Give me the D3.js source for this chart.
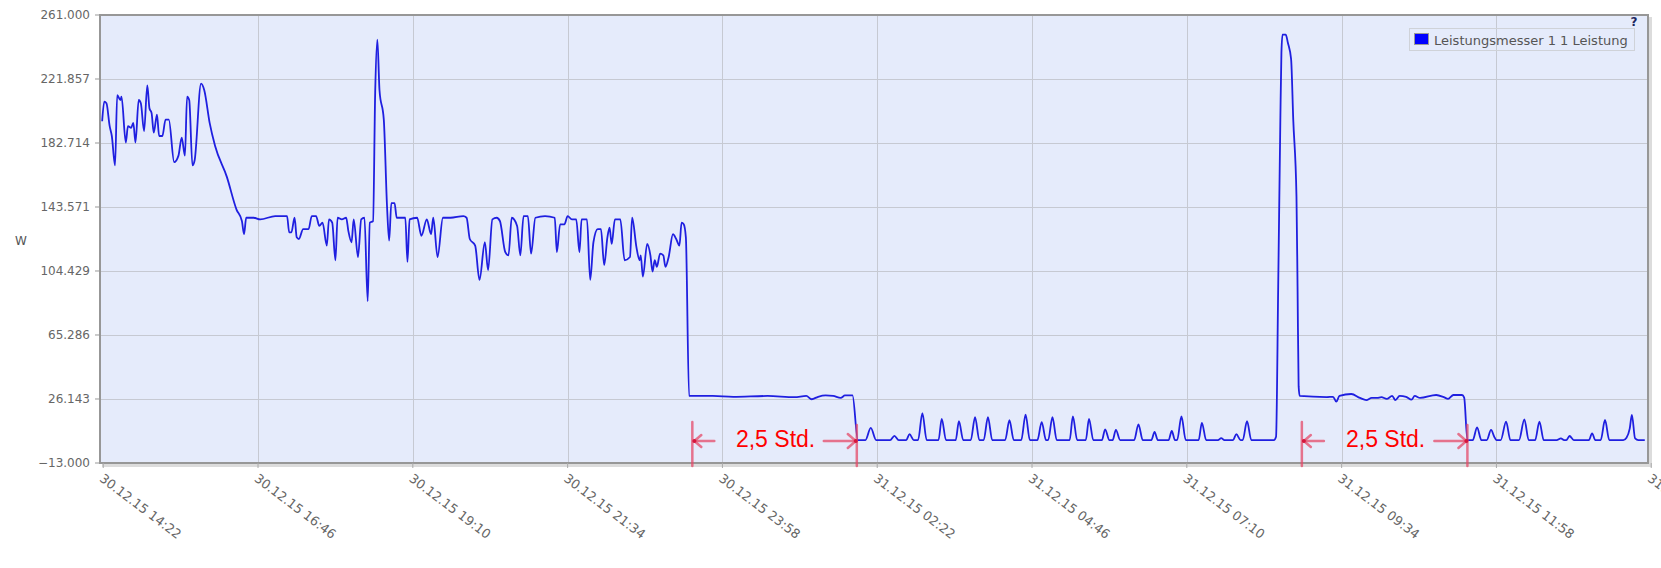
<!DOCTYPE html>
<html>
<head>
<meta charset="utf-8">
<script src="https://cdn.jsdelivr.net/npm/d3@7"></script>
<style>
    body { margin: 0; background: #fff; }
    svg { display: block; }
</style>
</head>
<body>
<svg id="chart" width="1661" height="568"></svg>
<script>
// Messwerte: Minuten nach 30.12.15 14:19, Leistung in W
const minutes = [
    2, 4, 6, 9, 11, 14, 16, 19, 20, 24, 26, 29, 31, 33, 36, 38, 41, 44, 46, 48,
    50, 53, 55, 58, 61, 64, 69, 73, 76, 79, 81, 83, 86, 88, 94, 97, 102, 107, 118, 127,
    132, 134, 136, 143, 149, 163, 174, 176, 178, 181, 183, 185, 189, 194, 197, 201, 204, 207, 211, 213,
    216, 219, 221, 225, 229, 231, 234, 236, 240, 243, 246, 249, 251, 254, 256, 258, 260, 264, 267, 269,
    271, 274, 276, 284, 286, 288, 295, 299, 304, 308, 310, 314, 319, 326, 338, 341, 344, 349, 353, 358,
    361, 365, 369, 372, 377, 380, 383, 388, 391, 394, 398, 401, 405, 414, 423, 425, 428, 432, 435, 439,
    443, 446, 448, 453, 456, 459, 463, 466, 469, 472, 474, 476, 479, 484, 488, 493, 495, 499, 502, 503,
    505, 509, 512, 514, 516, 518, 521, 524, 526, 529, 533, 536, 539, 541, 543, 545, 548,
    570, 589, 621, 646, 657, 662, 668, 675, 682, 689, 693, 700, 705,
    712, 717, 722, 735, 739, 743, 750, 753, 757, 761, 765, 769, 780, 783, 787, 796, 799, 803,
    810, 814, 818, 822, 826, 830, 842, 846, 850, 857, 861, 865, 872, 876, 880, 882, 886, 890,
    902, 905, 909, 917, 920, 924, 932, 935, 939, 942, 945, 949, 962, 966, 970, 978, 981, 984,
    994, 997, 1000, 1002, 1006, 1010, 1022, 1025, 1029, 1040, 1043, 1046, 1054, 1057, 1061, 1063, 1067, 1071,
    1092, 1094, 1096, 1098, 1099, 1100, 1103, 1105, 1108, 1110, 1113, 1114, 1115, 1116,
    1141, 1147, 1150, 1153, 1164, 1172, 1178, 1183, 1188, 1192, 1197, 1202, 1205, 1209, 1215, 1220,
    1223, 1228, 1243, 1250, 1254, 1259, 1267, 1269, 1272,
    1277, 1281, 1285, 1290, 1294, 1297, 1299, 1303, 1308, 1312, 1320, 1325, 1329, 1335, 1339, 1343,
    1355, 1359, 1362, 1364, 1367, 1371, 1385, 1388, 1391, 1396, 1400, 1404, 1417, 1420, 1423, 1425,
    1428, 1431, 1437
];
const watts = [
    196, 208, 207, 193, 187, 169, 212, 209, 211, 183, 193, 192, 195, 183, 209, 207, 190, 218, 204, 201,
    189, 200, 187, 187, 197, 197, 171, 175, 186, 175, 211, 209, 169, 172, 219, 215, 195, 181, 162, 142,
    135, 127, 137, 137, 136, 138, 138, 128, 128, 137, 125, 124, 130, 130, 138, 138, 132, 134, 120, 136,
    134, 111, 137, 136, 137, 129, 122, 136, 113, 136, 137, 86, 134, 135, 214, 246, 215, 197, 144, 123,
    146, 146, 137, 137, 110, 136, 137, 126, 136, 127, 137, 113, 137, 137, 138, 137, 124, 120, 99, 122,
    105, 136, 137, 135, 116, 114, 137, 132, 114, 138, 138, 115, 137, 138, 137, 116, 133, 133, 138, 136,
    136, 116, 136, 136, 99, 122, 130, 130, 108, 125, 131, 121, 136, 136, 111, 113, 137, 119, 111, 114,
    101, 121, 114, 104, 111, 107, 115, 114, 107, 113, 127, 124, 120, 134, 133, 125, 28,
    28, 27.5, 28, 27.3, 28, 26, 27.5, 28.3, 28, 26.8, 28.3, 28.3, 1,
    1, 8.5, 1, 1, 3.6, 1, 1, 4.6, 1, 1, 17.5, 1, 1, 14, 1, 1, 12.6, 1,
    1, 15, 1, 1, 15, 1, 1, 13.2, 1, 1, 16.5, 1, 1, 12, 1, 1, 15, 1,
    1, 15.5, 1, 1, 14, 1, 1, 7.6, 1, 1, 7.2, 1, 1, 10.6, 1, 1, 6, 1,
    1, 6.6, 1, 1, 15.5, 1, 1, 11.6, 1, 1, 2.2, 1, 1, 4.6, 1, 1, 12.6, 1,
    1, 3, 95, 197, 238, 249, 249, 244, 234, 197, 150, 95, 34, 28,
    27.3, 27.5, 24.5, 28, 29.2, 26.8, 25.5, 26.8, 26.8, 27.3, 26.2, 28, 25.5, 28, 27.5, 25.7,
    28, 26.8, 28.6, 27.3, 26.2, 28.6, 28.6, 27, 1,
    1, 8.8, 1, 1, 7.2, 3, 1, 1, 12.3, 1, 1, 13.7, 1, 1, 12.3, 1,
    1, 2.1, 1, 1, 3.5, 1, 1, 5.1, 1, 1, 13.3, 1, 1, 2.5, 8, 16.4,
    2, 1, 1
];

const xTickLabels = [
    "30.12.15 14:22", "30.12.15 16:46", "30.12.15 19:10", "30.12.15 21:34",
    "30.12.15 23:58", "31.12.15 02:22", "31.12.15 04:46", "31.12.15 07:10",
    "31.12.15 09:34", "31.12.15 11:58", "31.12.15 14:22"
];
const yTickValues = [-13, 26.143, 65.286, 104.429, 143.571, 182.714, 221.857, 261];

const seriesName = "Leistungsmesser 1 1 Leistung";
const unitLabel = "W";

// markierte Zeitspannen (Minuten nach 14:19)
const spanStarts = [551, 1118];
const spanEnds = [704, 1272];
const spanLabel = "2,5 Std.";

const t0 = new Date(2015, 11, 30, 14, 19);
const toTime = m => new Date(t0.getTime() + m * 60000);
const parseTick = d3.timeParse("%d.%m.%y %H:%M");

const plot = {left: 100, top: 15, right: 1648, bottom: 463};
const axisFont = "'DejaVu Sans', Verdana, sans-serif";

const svg = d3.select("#chart");

const x = d3.scaleTime()
    .domain([t0, toTime(1440)])
    .range([plot.left, plot.right]);
const y = d3.scaleLinear()
    .domain([-13, 261])
    .range([plot.bottom, plot.top]);

// Schatten + Hintergrund
svg.append("rect")
    .attr("x", plot.left + 2).attr("y", plot.top + 2)
    .attr("width", plot.right - plot.left + 2).attr("height", plot.bottom - plot.top + 2)
    .attr("fill", "#dcdcdc");
svg.append("rect")
    .attr("x", plot.left).attr("y", plot.top)
    .attr("width", plot.right - plot.left).attr("height", plot.bottom - plot.top)
    .attr("fill", "#e5ebfb");

let xTicks = xTickLabels.map(s => ({label: s, t: parseTick(s)}));

// Gitter
svg.append("g").selectAll("line").data(yTickValues.slice(1, -1))
    .enter().append("line")
    .attr("x1", plot.left).attr("x2", plot.right)
    .attr("y1", d => y(d) + 0.5).attr("y2", d => y(d) + 0.5)
    .attr("stroke", "#c6c9d2").attr("stroke-width", 1);
svg.append("g").selectAll("line").data(xTicks.filter(d => x(d.t) > plot.left + 5 && x(d.t) < plot.right - 5))
    .enter().append("line")
    .attr("x1", d => Math.round(x(d.t)) + 0.5).attr("x2", d => Math.round(x(d.t)) + 0.5)
    .attr("y1", plot.top).attr("y2", plot.bottom)
    .attr("stroke", "#c6c9d2").attr("stroke-width", 1);

// Rahmen
svg.append("rect")
    .attr("x", plot.left).attr("y", plot.top)
    .attr("width", plot.right - plot.left).attr("height", plot.bottom - plot.top)
    .attr("fill", "none").attr("stroke", "#979797").attr("stroke-width", 2);

// Y-Achse
let yAxis = svg.append("g");
yAxis.selectAll("line").data(yTickValues)
    .enter().append("line")
    .attr("x1", plot.left - 5).attr("x2", plot.left)
    .attr("y1", d => y(d)).attr("y2", d => y(d))
    .attr("stroke", "#999");
yAxis.selectAll("text").data(yTickValues)
    .enter().append("text")
    .attr("x", plot.left - 10)
    .attr("y", d => y(d))
    .attr("dy", "0.36em")
    .attr("text-anchor", "end")
    .style("font", "12px " + axisFont)
    .attr("fill", "#666")
    .text(d => d3.format(".3f")(d));

svg.append("text")
    .attr("x", 21).attr("y", 245)
    .attr("text-anchor", "middle")
    .style("font", "12px " + axisFont)
    .attr("fill", "#555")
    .text(unitLabel);

// X-Achse
let xAxis = svg.append("g");
xAxis.selectAll("line").data(xTicks)
    .enter().append("line")
    .attr("x1", d => x(d.t)).attr("x2", d => x(d.t))
    .attr("y1", plot.bottom).attr("y2", plot.bottom + 5)
    .attr("stroke", "#aaa");
xAxis.selectAll("text").data(xTicks)
    .enter().append("text")
    .attr("transform", d => "translate(" + (x(d.t) + 1) + "," + (plot.bottom + 10) + ") rotate(37)")
    .attr("dy", "0.72em")
    .style("font", "12.8px " + axisFont)
    .attr("fill", "#666")
    .text(d => d.label);

// Messkurve
let line = d3.line()
    .x((d, i) => x(toTime(minutes[i])))
    .y(d => y(d))
    .curve(d3.curveMonotoneX);

svg.append("path")
    .datum(watts)
    .attr("d", line)
    .attr("fill", "none")
    .attr("stroke", "#1f1fe0")
    .attr("stroke-width", 1.8)
    .attr("stroke-linejoin", "round");

// Legende
let legend = svg.append("g");
legend.append("rect")
    .attr("x", 1409.5).attr("y", 28.5).attr("width", 225).attr("height", 22)
    .attr("fill", "none").attr("stroke", "#cfd2d8");
legend.append("rect")
    .attr("x", 1414.5).attr("y", 33.5).attr("width", 14).attr("height", 11)
    .attr("fill", "#0000ff").attr("stroke", "#999");
legend.append("text")
    .attr("x", 1434).attr("y", 44.5)
    .style("font", "13px " + axisFont)
    .attr("fill", "#555")
    .text(seriesName);

svg.append("text")
    .attr("x", 1634).attr("y", 26)
    .attr("text-anchor", "middle")
    .style("font", "bold 12px " + axisFont)
    .attr("fill", "#1c2660")
    .text("?");

// Markierungen der Zeitspannen
let marks = svg.append("g");
spanStarts.forEach((s, i) => {
    let xa = x(toTime(s));
    let xb = x(toTime(spanEnds[i]));
    let ay = 441;
    let g = marks.append("g")
        .attr("stroke", "#e44a68")
        .attr("stroke-opacity", 0.75)
        .attr("stroke-width", 2.5)
        .attr("stroke-linecap", "round")
        .attr("fill", "none");
    g.append("line").attr("x1", xa).attr("x2", xa).attr("y1", 422).attr("y2", 466);
    g.append("line").attr("x1", xb).attr("x2", xb).attr("y1", 425).attr("y2", 466);
    g.append("line").attr("x1", xa + 2).attr("x2", xa + 22).attr("y1", ay).attr("y2", ay);
    g.append("polyline").attr("points", [[xa + 9, ay - 6], [xa + 2, ay], [xa + 9, ay + 6]].join(" "));
    g.append("line").attr("x1", xb - 33).attr("x2", xb - 2).attr("y1", ay).attr("y2", ay);
    g.append("polyline").attr("points", [[xb - 9, ay - 7], [xb - 1, ay], [xb - 9, ay + 7]].join(" "));
    marks.append("circle").attr("cx", xa + 2).attr("cy", ay).attr("r", 2).attr("fill", "#d4163c");
    marks.append("circle").attr("cx", xb - 1).attr("cy", ay).attr("r", 2).attr("fill", "#d4163c");

    marks.append("text")
        .attr("x", (xa + xb) / 2 + 1)
        .attr("y", 447)
        .attr("text-anchor", "middle")
        .style("font", "23px 'Liberation Sans', Arial, sans-serif")
        .attr("fill", "#ff0000")
        .text(spanLabel);
});
</script>
</body>
</html>
